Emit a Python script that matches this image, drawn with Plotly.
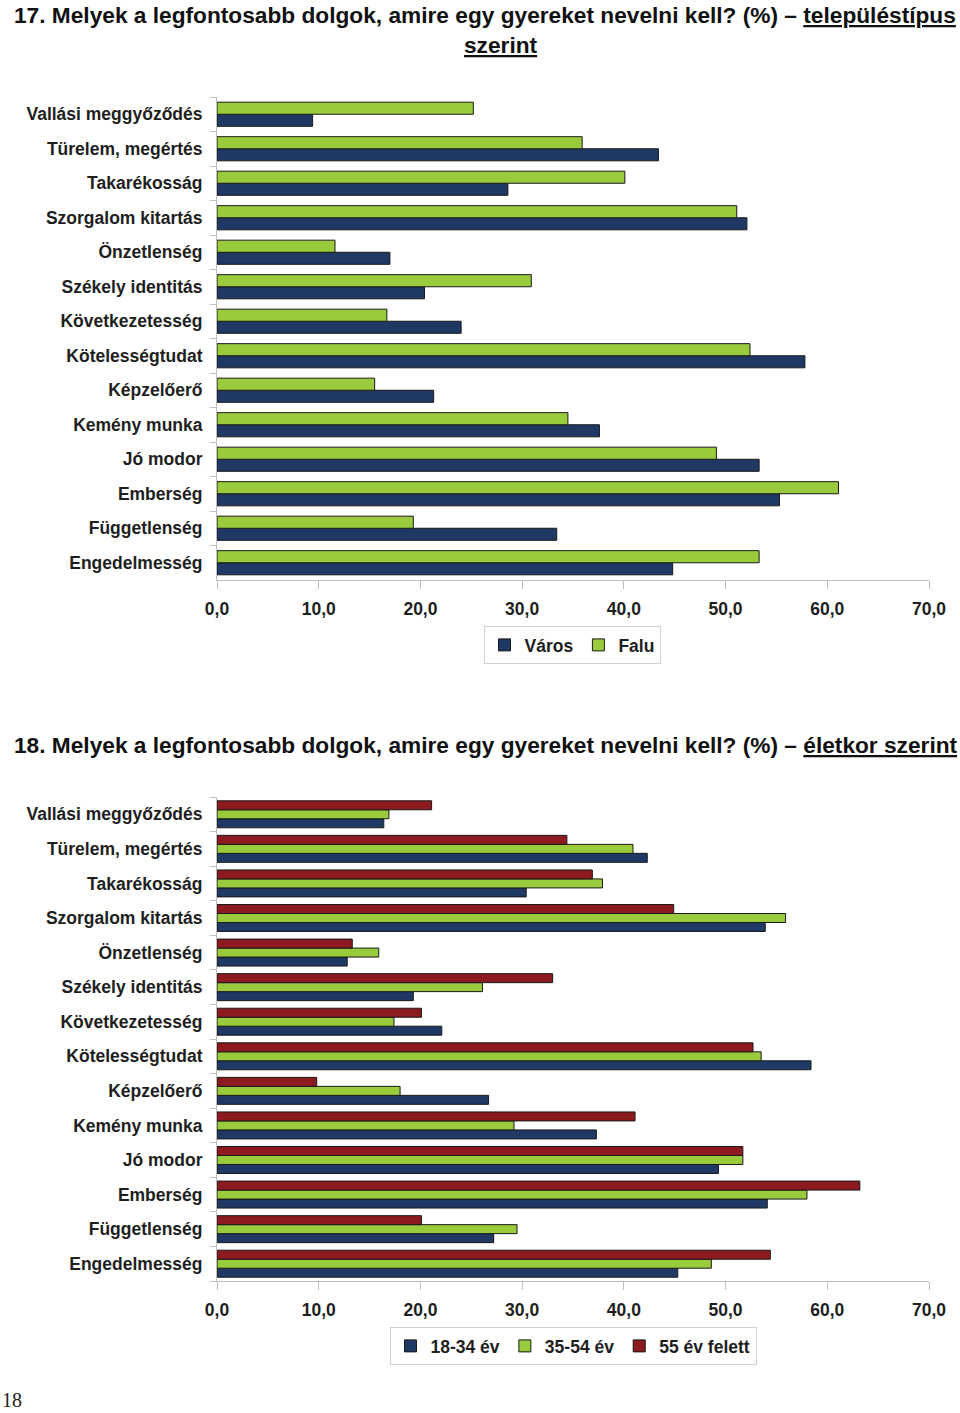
import plotly.graph_objects as go

categories = ["Vallási meggyőződés", "Türelem, megértés", "Takarékosság", "Szorgalom kitartás",
              "Önzetlenség", "Székely identitás", "Következetesség", "Kötelességtudat",
              "Képzelőerő", "Kemény munka", "Jó modor", "Emberség", "Függetlenség", "Engedelmesség"]

# Chart 17 - by settlement type
varos = [9.4, 43.4, 28.6, 52.1, 17.0, 20.4, 24.0, 57.8, 21.3, 37.6, 53.3, 55.3, 33.4, 44.8]
falu = [25.2, 35.9, 40.1, 51.1, 11.6, 30.9, 16.7, 52.4, 15.5, 34.5, 49.1, 61.1, 19.3, 53.3]

# Chart 18 - by age
age_18_34 = [16.4, 42.3, 30.4, 53.9, 12.8, 19.3, 22.1, 58.4, 26.7, 37.3, 49.3, 54.1, 27.2, 45.3]
age_35_54 = [16.9, 40.9, 37.9, 55.9, 15.9, 26.1, 17.4, 53.5, 18.0, 29.2, 51.7, 58.0, 29.5, 48.6]
age_55_plus = [21.1, 34.4, 36.9, 44.9, 13.3, 33.0, 20.1, 52.7, 9.8, 41.1, 51.7, 63.2, 20.1, 54.4]

x_ticks = [0, 10, 20, 30, 40, 50, 60, 70]

NAVY = "#1F3864"
GREEN = "#9ACB3C"
RED = "#8C1A1E"
OUTLINE = "#1a1a1a"
TXT = "#1e1e1e"
AXC = "#BFBFBF"

W, H = 960, 1413
def py(px):
    return 1 - px / H

fig = go.Figure()

# chart 1
fig.add_trace(go.Bar(y=categories, x=varos, name="Város", orientation="h",
                     marker=dict(color=NAVY, line=dict(color=OUTLINE, width=1)),
                     width=0.35, offset=-0.35, xaxis="x", yaxis="y", legend="legend"))
fig.add_trace(go.Bar(y=categories, x=falu, name="Falu", orientation="h",
                     marker=dict(color=GREEN, line=dict(color=OUTLINE, width=1)),
                     width=0.35, offset=0.0, xaxis="x", yaxis="y", legend="legend"))

# chart 2
fig.add_trace(go.Bar(y=categories, x=age_18_34, name="18-34 év", orientation="h",
                     marker=dict(color=NAVY, line=dict(color=OUTLINE, width=1)),
                     width=0.26, offset=-0.39, xaxis="x2", yaxis="y2", legend="legend2"))
fig.add_trace(go.Bar(y=categories, x=age_35_54, name="35-54 év", orientation="h",
                     marker=dict(color=GREEN, line=dict(color=OUTLINE, width=1)),
                     width=0.26, offset=-0.13, xaxis="x2", yaxis="y2", legend="legend2"))
fig.add_trace(go.Bar(y=categories, x=age_55_plus, name="55 év felett", orientation="h",
                     marker=dict(color=RED, line=dict(color=OUTLINE, width=1)),
                     width=0.26, offset=0.13, xaxis="x2", yaxis="y2", legend="legend2"))

tickfont = dict(family="Liberation Sans, Arial, sans-serif", size=17.5, color=TXT, weight="bold")

def xax(anchor):
    return dict(domain=[217 / W, 929 / W], range=[0, 70], tickvals=x_ticks, tickformat=".1f",
                showgrid=False, zeroline=False, showline=True, linecolor=AXC, linewidth=1,
                ticks="outside", ticklen=8, tickcolor=AXC, tickfont=tickfont, anchor=anchor,
                ticklabelstandoff=5, fixedrange=True, automargin=False)

def yax(dom, anchor):
    return dict(domain=dom, type="category", categoryorder="array",
                categoryarray=list(reversed(categories)), range=[-0.5, len(categories) - 0.5],
                showgrid=False, zeroline=False, showline=True, linecolor=AXC, linewidth=1,
                ticks="outside", ticklen=6, tickcolor=AXC, tickson="boundaries",
                ticklabelstandoff=10, tickfont=tickfont, anchor=anchor, fixedrange=True,
                automargin=False)

legend_common = dict(orientation="h", xanchor="center", yanchor="middle",
                     bordercolor="#D0D0D0", borderwidth=1, bgcolor="white",
                     font=dict(family="Liberation Sans, Arial, sans-serif", size=17.5, color=TXT,
                               weight="bold"),
                     itemwidth=30, traceorder="normal", tracegroupgap=0)

title_font = dict(family="Liberation Sans, Arial, sans-serif",
                  size=22.7, color="#111111", weight="bold")

fig.update_layout(
    width=W, height=H,
    margin=dict(l=0, r=0, t=0, b=0, autoexpand=False),
    paper_bgcolor="white", plot_bgcolor="white",
    separators=", ",
    barmode="overlay",
    font=dict(family="Liberation Sans, Arial, sans-serif", size=17, color=TXT),
    xaxis=xax("y"),
    yaxis=yax([py(580), py(97)], "x"),
    xaxis2=xax("y2"),
    yaxis2=yax([py(1281), py(797)], "x2"),
    legend=dict(x=572 / W, y=py(645), **legend_common),
    legend2=dict(x=573 / W, y=py(1346), **legend_common),
    annotations=[
        dict(text="17. Melyek a legfontosabb dolgok, amire egy gyereket nevelni kell? (%) – <u>településtípus</u>",
             x=12 / W, y=py(15), xref="paper", yref="paper", xanchor="left", yanchor="middle",
             showarrow=False, font=title_font),
        dict(text="<u>szerint</u>",
             x=501 / W, y=py(45), xref="paper", yref="paper", xanchor="center", yanchor="middle",
             showarrow=False, font=title_font),
        dict(text="18. Melyek a legfontosabb dolgok, amire egy gyereket nevelni kell? (%) – <u>életkor szerint</u>",
             x=12 / W, y=py(745), xref="paper", yref="paper", xanchor="left", yanchor="middle",
             showarrow=False, font=title_font),
        dict(text="18",
             x=0, y=py(1400), xref="paper", yref="paper", xanchor="left", yanchor="middle",
             showarrow=False, font=dict(family="Liberation Serif, Times New Roman, serif", size=20, color="#222")),
    ],
)

fig.write_html("out.html", config={"displayModeBar": False},
               post_script="document.body.style.margin='0';document.body.style.overflow='hidden';")
